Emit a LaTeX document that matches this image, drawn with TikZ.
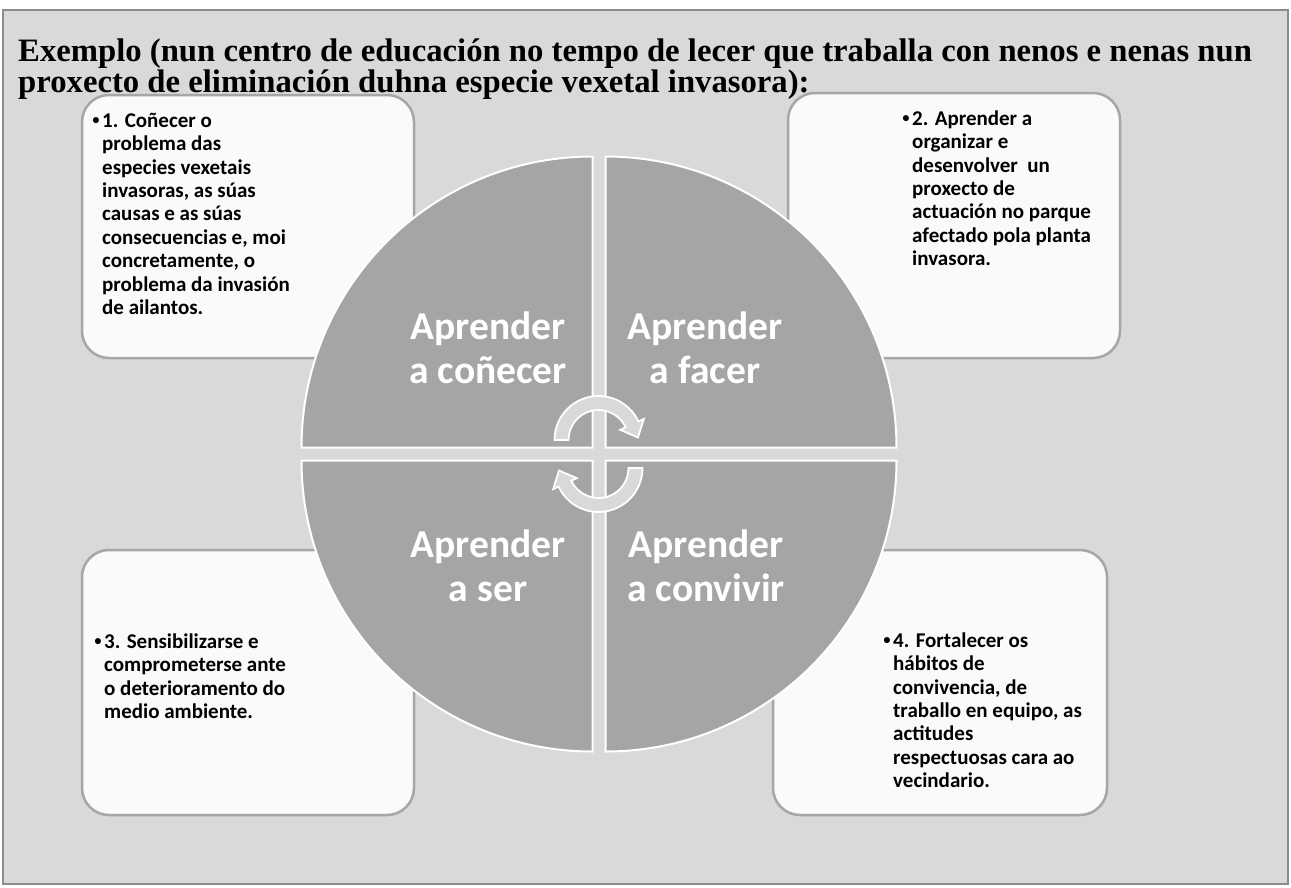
\documentclass[tikz,border=0pt]{standalone}
\usepackage{fontspec}
\setmainfont{Liberation Serif}
\newfontfamily\calfont{Carlito}
\newfontfamily\bulfont{Liberation Sans}
\definecolor{pagebg}{HTML}{D9D9D9}
\definecolor{pageline}{HTML}{8C8C8C}
\definecolor{boxfill}{HTML}{FAFAFA}
\definecolor{boxline}{HTML}{A6A6A6}
\definecolor{quadfill}{HTML}{A5A5A5}
\definecolor{arrowfill}{HTML}{D9D9D9}
\tikzset{
  infobox/.style={fill=boxfill, draw=boxline, line width=2.5pt, rounded corners=27pt},
  quad/.style={fill=quadfill, draw=white, line width=2pt},
  cyclearrow/.style={fill=arrowfill, draw=white, line width=1.8pt, line join=miter},
  boxtext/.style={anchor=north west, inner sep=0pt, align=left, font=\calfont\bfseries\fontsize{21}{23.4}\selectfont},
  quadtext/.style={inner sep=0pt, align=center, text=white, font=\calfont\bfseries\fontsize{39.5}{44}\selectfont},
  titletext/.style={anchor=base west, inner sep=0pt, font=\bfseries\fontsize{32.7}{31}\selectfont}
}
\newcommand{\bul}{\rule{0pt}{16pt}\llap{{\bulfont\textbullet}\hspace{2.5pt}}}
\begin{document}
\begin{tikzpicture}[x=1pt,y=-1pt]
\useasboundingbox (0,0) rectangle (1291,887);
\fill[white] (0,0) rectangle (1291,887);
\draw[fill=pagebg, draw=pageline, line width=1.3pt] (3,10) rectangle (1288,884);

\node[titletext] (title1) at (18,61) {Exemplo (nun centro de educación no tempo de lecer que traballa con nenos e nenas nun};
\node[titletext] (title2) at (18,92) {proxecto de eliminación duhna especie vexetal invasora):};

% boxes
\draw[infobox] (82,95) rectangle (414,358);
\draw[infobox] (788,93) rectangle (1120,358);
\draw[infobox] (82,550) rectangle (414,815);
\draw[infobox] (773,550) rectangle (1107,815);

% quadrants
\path[quad] (592.5,447.5) -- ++(-291,0) arc[start angle=180, end angle=270, radius=291] -- cycle;
\path[quad] (605.5,447.5) -- ++(0,-291) arc[start angle=270, end angle=360, radius=291] -- cycle;
\path[quad] (605.5,460.5) -- ++(291,0) arc[start angle=0, end angle=90, radius=291] -- cycle;
\path[quad] (592.5,460.5) -- ++(0,291) arc[start angle=90, end angle=180, radius=291] -- cycle;

% cycle arrows
\begin{scope}[shift={(598.5,440)}]
\path[cyclearrow] (180:44) arc[start angle=180, end angle=335, radius=44] -- (335:50) -- (39.5,-2.5) -- (335:24) -- (335:30) arc[start angle=335, end angle=180, radius=30] -- cycle;
\end{scope}
\begin{scope}[shift={(598.5,468)}]
\path[cyclearrow] (0:44) arc[start angle=0, end angle=155, radius=44] -- (155:50) -- (-39.5,2.5) -- (155:24) -- (155:30) arc[start angle=155, end angle=0, radius=30] -- cycle;
\end{scope}

% quadrant labels
\node[quadtext] (q1) at (488,348) {Aprender\\a coñecer};
\node[quadtext] (q2) at (705,348) {Aprender\\a facer};
\node[quadtext] (q3) at (488,566) {Aprender\\a ser};
\node[quadtext] (q4) at (706,566) {Aprender\\a convivir};

% box texts
\node[boxtext] (t1) at (102,111) {\bul 1. Coñecer o\\problema das\\especies vexetais\\invasoras, as súas\\causas e as súas\\consecuencias e, moi\\concretamente, o\\problema da invasión\\de ailantos.};
\node[boxtext] (t2) at (912,109) {\bul 2. Aprender a\\organizar e\\desenvolver\ \ un\\proxecto de\\actuación no parque\\afectado pola planta\\invasora.};
\node[boxtext] (t3) at (104,632) {\bul 3. Sensibilizarse e\\comprometerse ante\\o deterioramento do\\medio ambiente.};
\node[boxtext] (t4) at (893,631) {\bul 4. Fortalecer os\\hábitos de\\convivencia, de\\traballo en equipo, as\\actitudes\\respectuosas cara ao\\vecindario.};
\end{tikzpicture}
\end{document}
